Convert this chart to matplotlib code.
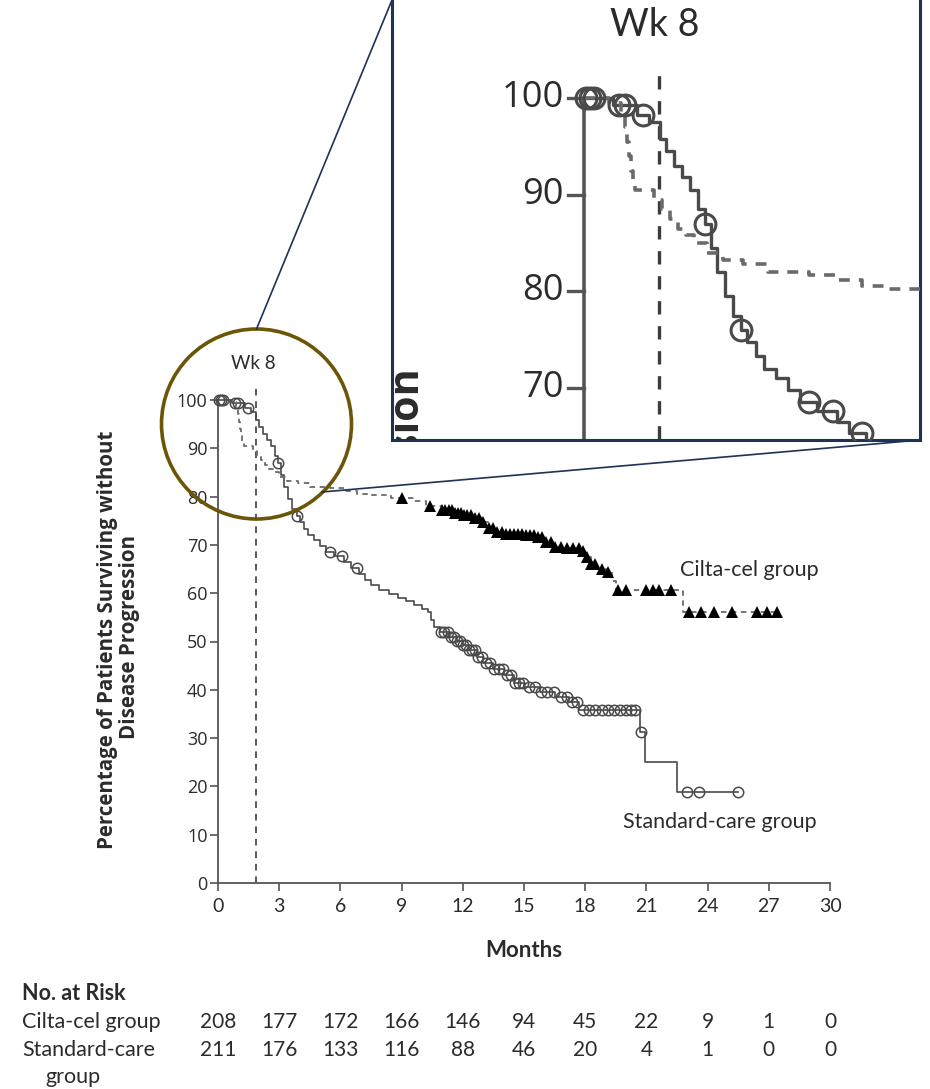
import numpy as np
import matplotlib.pyplot as plt
from matplotlib.patches import Ellipse
from matplotlib.lines import Line2D
from matplotlib.transforms import blended_transform_factory

# x axis (months) and the week-8 marker
month_ticks = list(range(0, 31, 3))
wk8 = 8 * 7 / 30.4375

# Standard-care group: Kaplan-Meier steps (time in months, % progression-free)
std_t = [0, 0.7, 1.3, 1.6, 1.85, 2.0, 2.2, 2.4, 2.6, 2.8, 2.95, 3.1, 3.25, 3.45,
         3.65, 3.85, 4.0, 4.2, 4.4, 4.7, 5.0, 5.3, 5.7, 6.2, 6.5, 6.9, 7.2, 7.5,
         7.9, 8.4, 8.8, 9.2, 9.6, 10.0, 10.3, 10.45, 10.6, 10.9, 11.3, 11.7, 12.0,
         12.3, 12.7, 13.0, 13.5, 14.0, 14.5, 15.0, 15.8, 16.5, 17.2, 17.7, 20.7,
         20.95, 22.5, 25.5]
std_s = [100, 99.3, 98.3, 97.5, 95.8, 94.5, 93.0, 91.8, 90.5, 88.5, 87.0, 84.5,
         82.0, 79.5, 77.5, 76.0, 74.8, 73.3, 72.0, 71.0, 69.8, 68.6, 67.6, 66.5,
         65.3, 64.0, 62.8, 61.8, 60.7, 59.8, 59.0, 58.3, 57.6, 56.8, 56.2, 54.5,
         53.0, 52.0, 51.0, 50.2, 49.3, 48.2, 46.8, 45.5, 44.3, 43.0, 41.5, 40.5,
         39.5, 38.5, 37.5, 35.8, 31.3, 25.0, 18.8, 18.8]
std_cens = [0.05, 0.15, 0.25, 0.85, 1.0, 1.45, 2.95, 3.85, 5.5, 6.1, 6.8,
            10.95, 11.1, 11.25, 11.4, 11.55, 11.7, 11.85, 12.0, 12.15, 12.3,
            12.45, 12.6, 12.75, 12.95, 13.15, 13.35, 13.55, 13.75, 13.95, 14.15,
            14.35, 14.55, 14.75, 14.95, 15.25, 15.55, 15.85, 16.15, 16.45, 16.8,
            17.1, 17.35, 17.6, 17.9, 18.2, 18.5, 18.8, 19.1, 19.4, 19.7, 20.0,
            20.25, 20.45, 20.75, 23.0, 23.6, 25.5]

# Cilta-cel group
cil_t = [0, 0.6, 0.9, 1.0, 1.05, 1.1, 1.15, 1.2, 1.25, 1.7, 1.9, 2.1, 2.3, 2.5,
         2.7, 3.0, 3.4, 3.9, 4.5, 5.5, 6.2, 6.8, 7.4, 8.5, 9.6, 10.2, 11.0, 11.5,
         12.0, 12.5, 13.0, 13.3, 13.6, 14.0, 15.0, 15.6, 16.0, 16.4, 17.0, 17.8,
         18.0, 18.3, 18.6, 19.0, 19.3, 19.5, 22.8, 27.4]
cil_s = [100, 99.5, 98.5, 97.0, 95.5, 94.0, 92.5, 91.0, 90.5, 89.5, 88.5, 87.5,
         86.5, 85.8, 85.0, 84.0, 83.3, 82.8, 82.0, 81.7, 81.2, 80.6, 80.3, 79.7,
         79.0, 78.0, 77.3, 76.7, 76.2, 75.6, 74.8, 73.5, 72.6, 72.2, 72.0, 71.6,
         70.5, 69.6, 69.3, 68.8, 67.5, 66.0, 65.0, 64.4, 62.5, 60.7, 56.1, 56.1]
cil_cens = [9.0, 10.4, 11.0, 11.15, 11.3, 11.45, 11.6, 11.75, 11.9, 12.05, 12.2,
            12.4, 12.6, 12.8, 13.0, 13.3, 13.5, 13.7, 13.9, 14.1, 14.3, 14.5,
            14.7, 14.9, 15.1, 15.3, 15.5, 15.7, 15.9, 16.1, 16.3, 16.5, 16.8,
            17.1, 17.4, 17.7, 17.9, 18.1, 18.3, 18.5, 18.8, 19.1, 19.6, 20.0,
            21.0, 21.3, 21.6, 22.2, 23.1, 23.7, 24.3, 25.2, 26.4, 26.9, 27.4]

risk_cil = [208, 177, 172, 166, 146, 94, 45, 22, 9, 1, 0]
risk_std = [211, 176, 133, 116, 88, 46, 20, 4, 1, 0, 0]

ylab1 = "Percentage of Patients Surviving without"
ylab2 = "Disease Progression"

STD_C = "#4a4a4a"
CIL_C = "#6a6a6a"
TXT = "#2b2b2b"
NAVY = "#1d3254"
GOLD = "#6b5608"
F_NUM = ["Open Sans", "DejaVu Sans"]
F_TXT = ["Lato", "DejaVu Sans"]

W, H = 930, 1089
x0, x1, y0, y1 = 218, 830, 883, 400
ppm = (x1 - x0) / 30.0      # pixels per month in the main panel
ppu = (y0 - y1) / 100.0     # pixels per percentage point


def on_curve(t, s, c):
    idx = np.searchsorted(t, c, side="right") - 1
    return np.asarray(s)[idx]


def clipped(t, ax):
    t.set_clip_on(True)
    t.set_clip_box(ax.bbox)


def draw_curves(ax, z, clip):
    ax.step(std_t, std_s, where="post", color=STD_C, lw=1.2 * z, clip_on=clip, zorder=3)
    ax.plot(std_cens, on_curve(std_t, std_s, std_cens), "o", mfc="none", mec=STD_C,
            mew=1.1 * z, ms=7.5 * z, clip_on=clip, zorder=4)
    ax.step(cil_t, cil_s, where="post", color=CIL_C, lw=1.3 * z, ls=(0, (3, 2.5)),
            clip_on=clip, zorder=3)
    ax.plot(cil_cens, on_curve(cil_t, cil_s, cil_cens), "^", color="black",
            ms=9 * z, mew=0, clip_on=clip, zorder=4)
    ax.plot([wk8, wk8], [0, 103.5], color="#3c3c3c", lw=1.2 * z, ls=(0, (4, 3.5)),
            clip_on=clip, zorder=2)
    t = ax.text(wk8 - 0.1, 107.6, "Wk 8", fontsize=13.5 * z, color=TXT, family=F_TXT,
                ha="center", va="center")
    if clip:
        clipped(t, ax)
    # second line of the y label (the only part that reaches into the zoom box)
    t = ax.text((130 - x0) / ppm, 50.9, ylab2, rotation=90, fontsize=14.8 * z,
                fontweight="bold", color=TXT, family=F_NUM, ha="center", va="center")
    if clip:
        clipped(t, ax)


fig = plt.figure(figsize=(W / 100, H / 100), dpi=100)

ax = fig.add_axes([x0 / W, 1 - y0 / H, (x1 - x0) / W, (y0 - y1) / H])
ax.set_xlim(0, 30)
ax.set_ylim(0, 100)
for s in ("top", "right"):
    ax.spines[s].set_visible(False)
for s in ("left", "bottom"):
    ax.spines[s].set_color("#555555")
    ax.spines[s].set_linewidth(1.3)
ax.set_xticks(month_ticks)
ax.set_yticks(range(0, 101, 10))
ax.tick_params(axis="both", direction="out", length=6, width=1.2, color="#555555",
               labelcolor=TXT)
ax.tick_params(axis="x", pad=5)
ax.tick_params(axis="y", pad=1.5)
for lab in ax.get_xticklabels():
    lab.set_family(F_TXT)
    lab.set_fontsize(14)
for lab in ax.get_yticklabels():
    lab.set_family(F_NUM)
    lab.set_fontsize(13)

draw_curves(ax, 1, False)
ax.text((107 - x0) / ppm, 50.3, ylab1, rotation=90, fontsize=14.8, fontweight="bold",
        color=TXT, family=F_NUM, ha="center", va="center")

ax.text(22.65, 64.8, "Cilta-cel group", fontsize=15.5, color=TXT, family=F_TXT,
        ha="left", va="center")
ax.text(19.85, 12.6, "Standard-care group", fontsize=15.5, color=TXT, family=F_TXT,
        ha="left", va="center")
ax.set_xlabel("Months", fontsize=16, fontweight="bold", color=TXT, family=F_TXT,
              labelpad=18)

# number at risk
tr = blended_transform_factory(ax.transData, fig.transFigure)
fig.text(22 / W, 1 - 993 / H, "No. at Risk", fontsize=15.5, fontweight="bold",
         color=TXT, family=F_TXT, va="center")
fig.text(22 / W, 1 - 1022 / H, "Cilta-cel group", fontsize=15.5, color=TXT,
         family=F_TXT, va="center")
fig.text(22 / W, 1 - 1050 / H, "Standard-care", fontsize=15.5, color=TXT,
         family=F_TXT, va="center")
fig.text(45 / W, 1 - 1077 / H, "group", fontsize=15.5, color=TXT, family=F_TXT,
         va="center")
for m, a, b in zip(month_ticks, risk_cil, risk_std):
    fig.text(m, 1 - 1022 / H, str(a), transform=tr, fontsize=15, color=TXT,
             family=F_TXT, ha="center", va="center")
    fig.text(m, 1 - 1050 / H, str(b), transform=tr, fontsize=15, color=TXT,
             family=F_TXT, ha="center", va="center")

# magnifier circle
cx, cy, r = 256.5, 424, 95
ax.add_patch(Ellipse(((cx - x0) / ppm, (y0 - cy) / ppu), 2 * r / ppm, 2 * r / ppu,
                     fill=False, ec=GOLD, lw=2.6, clip_on=False, zorder=6))

# zoomed inset
zf = 2.0
ix0, ix1, iy0, iy1 = 392, 920, 440, 0
icx, icy = 1.76, 87.4
hw = (ix1 - ix0) / 2 / (ppm * zf)
hh = (iy0 - iy1) / 2 / (ppu * zf)
ins = fig.add_axes([ix0 / W, 1 - iy0 / H, (ix1 - ix0) / W, (iy0 - iy1) / H])
ins.set_zorder(5)
ins.set_xlim(icx - hw, icx + hw)
ins.set_ylim(icy - hh, icy + hh)
ins.set_xticks([])
ins.set_yticks([])
for s in ins.spines.values():
    s.set_color(NAVY)
    s.set_linewidth(2.2)
ins.spines["top"].set_visible(False)
draw_curves(ins, zf, True)
tick_px = 6 * 100 / 72
ins.plot([0, 0], [0, 100], color="#555555", lw=1.3 * zf, zorder=2)
for v in range(0, 101, 10):
    if v < icy - hh:
        continue
    ins.plot([-tick_px / ppm, 0], [v, v], color="#555555", lw=1.2 * zf)
    t = ins.text(-(tick_px + 2) / ppm, v, str(v), fontsize=13 * zf, color=TXT,
                 family=F_NUM, ha="right", va="center")
    clipped(t, ins)

# connector lines from circle to inset
fig.add_artist(Line2D([cx / W, ix0 / W], [1 - (cy - r) / H, 1.0], color=NAVY, lw=1.2))
fig.add_artist(Line2D([322 / W, ix1 / W], [1 - 492 / H, 1 - iy0 / H], color=NAVY, lw=1.2))

fig.savefig("out.png", dpi=100)
